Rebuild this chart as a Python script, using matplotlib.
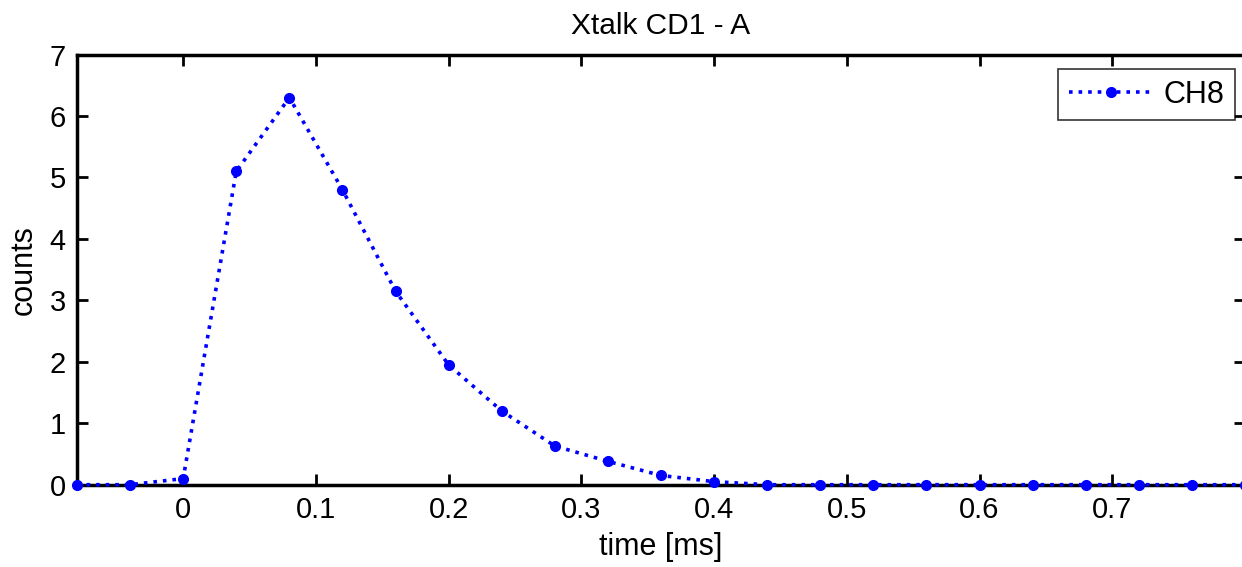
import matplotlib
matplotlib.use("Agg")
import matplotlib.pyplot as plt

plt.rcParams['font.family'] = ['Liberation Sans', 'DejaVu Sans']

time_ms = [-0.08, -0.04, 0.0, 0.04, 0.08, 0.12, 0.16, 0.20, 0.24, 0.28, 0.32,
           0.36, 0.40, 0.44, 0.48, 0.52, 0.56, 0.60, 0.64, 0.68, 0.72, 0.76, 0.80]
counts = [0.0, 0.0, 0.1, 5.1, 6.3, 4.8, 3.15, 1.95, 1.2, 0.63, 0.38,
          0.15, 0.05, 0.0, 0.0, 0.0, 0.0, 0.0, 0.0, 0.0, 0.0, 0.0, 0.0]
xticks = [0, 0.1, 0.2, 0.3, 0.4, 0.5, 0.6, 0.7]
yticks = [0, 1, 2, 3, 4, 5, 6, 7]

W, H = 1242, 567
fig = plt.figure(figsize=(W / 100, H / 100), dpi=100)
left, right, top, bottom = 77, 1245, 54.6, 484.7
ax = fig.add_axes([left / W, 1 - bottom / H, (right - left) / W, (bottom - top) / H])
ax.plot(time_ms, counts, linestyle=':', color='#0000ff', linewidth=2.6,
        marker='o', markersize=7, label='CH8', clip_on=False, zorder=3)
ax.set_xlim(-0.08, 0.8)
ax.set_ylim(0, 7)
ax.set_xticks(xticks)
ax.set_xticklabels([('%g' % t) for t in xticks])
ax.set_yticks(yticks)
ax.tick_params(direction='in', top=True, right=True, length=8, width=2,
               labelsize=21, pad=8)
for s in ax.spines.values():
    s.set_linewidth(2.5)
ax.set_xlabel('time [ms]', fontsize=22, labelpad=6)
ax.set_ylabel('counts', fontsize=22, labelpad=8)
ax.set_title('Xtalk CD1 - A', fontsize=21.5, pad=15)
leg = ax.legend(loc='upper right', bbox_to_anchor=(1235 / W, 1 - 69 / H),
                bbox_transform=fig.transFigure, borderaxespad=0,
                fontsize=22, frameon=True, fancybox=False,
                edgecolor='black', handlelength=2.75, handletextpad=0.35,
                borderpad=0.35)
leg.get_frame().set_linewidth(1.2)
fig.savefig('out.png', dpi=100)
